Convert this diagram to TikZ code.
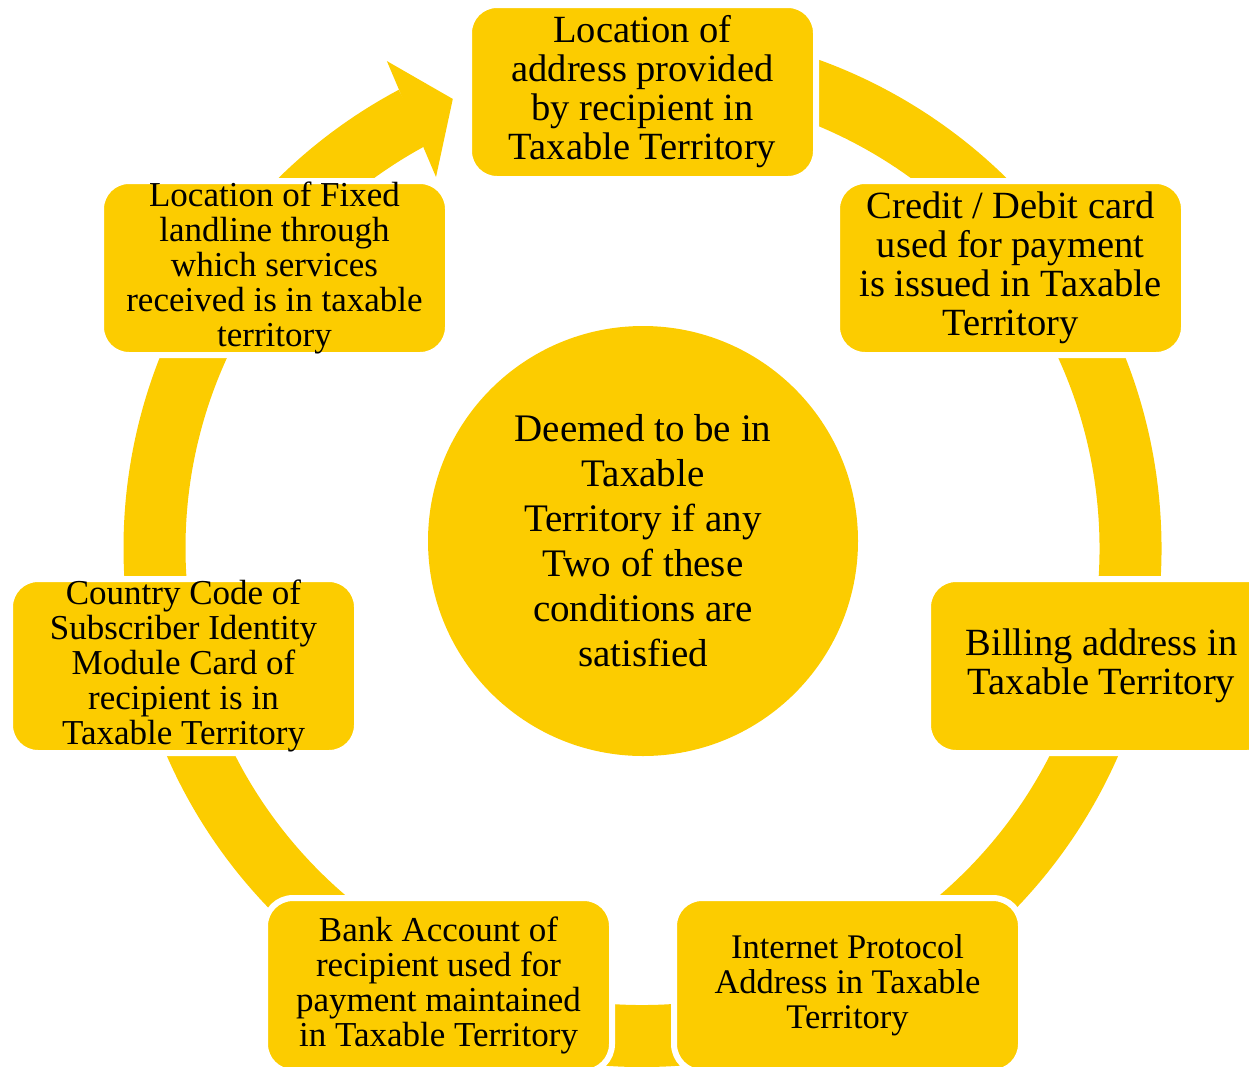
\documentclass[tikz,border=0pt]{standalone}
\usepackage{fontspec}
\setmainfont{Liberation Serif}
\usetikzlibrary{calc}
\definecolor{cycleyellow}{RGB}{252,204,0}
\tikzset{
  condbox/.style={rectangle, rounded corners=28pt, draw=white, line width=6pt,
    fill=cycleyellow, minimum width=347pt, minimum height=174pt, inner sep=0pt,
    align=center, text=black},
  hub/.style={circle, fill=cycleyellow, minimum size=430pt, inner sep=0pt,
    align=center, text=black},
  band/.style={draw=cycleyellow, line width=62pt},
  bigtext/.style={font=\fontsize{38.5}{39}\selectfont},
  midtext/.style={font=\fontsize{35}{35}\selectfont},
}
\begin{document}
\begin{tikzpicture}[x=1pt,y=1pt]
\useasboundingbox (0,0) rectangle (1249,-1066);
\clip (0,0) rectangle (1249,-1066);
\coordinate (C) at (642.5,-548);

% circular band running clockwise, ending in an arrowhead at the top
\draw[band] ($(C)+(95:488)$) arc[start angle=95, end angle=-242, radius=488];
\fill[cycleyellow] ($(C)+(117.7:550)$) -- ($(C)+(112.9:487.5)$)
  -- ($(C)+(119.1:424.6)$) -- cycle;

% central hub
\node[hub, font=\fontsize{39}{45}\selectfont] (hub) at (643,-541)
  {Deemed to be in\\Taxable\\Territory if any\\Two of these\\conditions are\\satisfied};

% the seven conditions
\node[condbox, bigtext] (n1) at (642.5,-92)
  {Location of\\address provided\\by recipient in\\Taxable Territory};
\node[condbox, bigtext] (n2) at (1010.5,-268)
  {Credit / Debit card\\used for payment\\is issued in Taxable\\Territory};
\node[condbox, bigtext] (n3) at (1101.5,-666)
  {Billing address in\\Taxable Territory};
\node[condbox, font=\fontsize{34.5}{35}\selectfont] (n4) at (847.5,-985)
  {Internet Protocol\\Address in Taxable\\Territory};
\node[condbox, midtext] (n5) at (438.5,-985)
  {Bank Account of\\recipient used for\\payment maintained\\in Taxable Territory};
\node[condbox, midtext] (n6) at (183.5,-666)
  {Country Code of\\Subscriber Identity\\Module Card of\\recipient is in\\Taxable Territory};
\node[condbox, midtext] (n7) at (274.5,-268)
  {Location of Fixed\\landline through\\which services\\received is in taxable\\territory};
\end{tikzpicture}
\end{document}
